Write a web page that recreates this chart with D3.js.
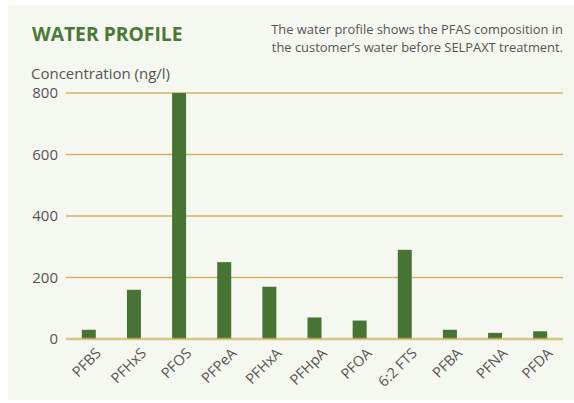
<!DOCTYPE html>
<html>
<head>
<meta charset="utf-8">
<script src="https://cdn.jsdelivr.net/npm/d3@7.9.0/dist/d3.min.js"></script>
<style>
  html, body { margin: 0; padding: 0; background: #fff; }
  svg { display: block; font-family: "Open Sans", sans-serif; }
</style>
</head>
<body>
<svg id="chart" width="574" height="403"></svg>
<script>
// data
const categories = ['PFBS', 'PFHxS', 'PFOS', 'PFPeA', 'PFHxA', 'PFHpA', 'PFOA', '6:2 FTS', 'PFBA', 'PFNA', 'PFDA'];
const values = [30, 160, 800, 250, 170, 70, 60, 290, 30, 20, 25];
const yTicks = [0, 200, 400, 600, 800];

const svg = d3.select('#chart');

// panel background
svg.append('rect')
  .attr('x', 8).attr('y', 5)
  .attr('width', 566).attr('height', 395)
  .attr('fill', '#f5f7f1');

const margin = { left: 66, right: 563, top: 93, bottom: 339 };

const x = d3.scaleBand()
  .domain(categories)
  .range([margin.left, margin.right])
  .paddingInner(0.69)
  .paddingOuter(0.35);

const y = d3.scaleLinear()
  .domain([0, 800])
  .range([margin.bottom, margin.top]);

// gridlines
svg.append('g')
  .selectAll('line')
  .data(yTicks.filter(d => d > 0))
  .join('line')
  .attr('x1', margin.left).attr('x2', margin.right)
  .attr('y1', d => y(d)).attr('y2', d => y(d))
  .attr('stroke', '#d6b35f')
  .attr('stroke-width', 1.6);

// y tick labels
svg.append('g')
  .selectAll('text')
  .data(yTicks)
  .join('text')
  .attr('x', 58)
  .attr('y', d => y(d))
  .attr('dy', '0.36em')
  .attr('text-anchor', 'end')
  .attr('font-size', 15)
  .attr('fill', '#555')
  .text(d => d);

// bars
svg.append('g')
  .selectAll('rect')
  .data(values)
  .join('rect')
  .attr('x', (d, i) => x(categories[i]))
  .attr('width', x.bandwidth())
  .attr('y', d => y(d))
  .attr('height', d => y(0) - y(d))
  .attr('fill', '#477335');

// baseline over the bars
svg.append('line')
  .attr('x1', margin.left).attr('x2', margin.right)
  .attr('y1', y(0)).attr('y2', y(0))
  .attr('stroke', '#d6b35f')
  .attr('stroke-opacity', 0.75)
  .attr('stroke-width', 2.4);

// x labels, rotated
svg.append('g')
  .selectAll('text')
  .data(categories)
  .join('text')
  .attr('transform', d => `translate(${x(d) + x.bandwidth() / 2 + 6},${y(0) + 8}) rotate(-45)`)
  .attr('text-anchor', 'end')
  .attr('dy', '0.7em')
  .attr('font-size', 14.5)
  .attr('fill', '#555')
  .text(d => d);

// titles
svg.append('text')
  .attr('x', 32).attr('y', 41)
  .attr('font-size', 19.3)
  .attr('font-weight', 'bold')
  .attr('fill', '#4a7a36')
  .text('WATER PROFILE');

const subLines = ['The water profile shows the PFAS composition in', 'the customer’s water before SELPAXT treatment.'];
svg.append('g')
  .selectAll('text')
  .data(subLines)
  .join('text')
  .attr('x', 563)
  .attr('y', (d, i) => 34 + i * 17.5)
  .attr('text-anchor', 'end')
  .attr('font-size', 12.9)
  .attr('fill', '#555')
  .text(d => d);

svg.append('text')
  .attr('x', 31).attr('y', 79)
  .attr('font-size', 15)
  .attr('fill', '#555')
  .text('Concentration (ng/l)');
</script>
</body>
</html>
